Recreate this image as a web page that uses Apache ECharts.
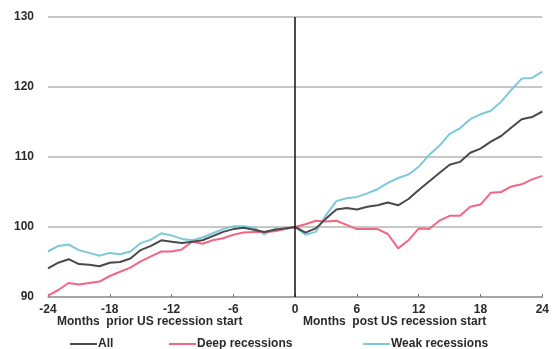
<!DOCTYPE html>
<html>
<head>
<meta charset="utf-8">
<script src="https://cdn.jsdelivr.net/npm/echarts@6/dist/echarts.min.js"></script>
<style>html,body{margin:0;padding:0;background:#fff;}#c{width:552px;height:349px;}</style>
</head>
<body>
<div id="c"></div>
<script>
var months = [];
for (var m = -24; m <= 24; m++) months.push(m);
var allValues = [94.1,94.9,95.4,94.7,94.6,94.4,94.9,95.0,95.5,96.7,97.3,98.1,97.9,97.7,97.9,98.1,98.7,99.3,99.7,99.9,99.6,99.3,99.6,99.8,
  100.0,99.2,99.8,101.2,102.5,102.7,102.5,102.9,103.1,103.5,103.1,104.0,105.3,106.5,107.7,108.9,109.3,110.6,111.2,112.2,113.0,114.2,115.4,115.7,116.5];
var deepValues = [90.2,91.0,92.0,91.8,92.0,92.2,93.0,93.6,94.2,95.1,95.8,96.5,96.5,96.8,97.9,97.6,98.1,98.4,98.9,99.2,99.3,99.3,99.4,99.7,
  100.0,100.4,100.9,100.8,100.9,100.3,99.7,99.7,99.7,99.0,96.95,98.1,99.8,99.7,100.9,101.6,101.6,102.9,103.2,104.9,105.0,105.8,106.1,106.8,107.3];
var weakValues = [96.5,97.3,97.5,96.7,96.3,95.9,96.3,96.1,96.5,97.7,98.2,99.1,98.8,98.3,98.1,98.5,99.1,99.7,100.1,100.1,99.9,98.95,99.7,99.8,
  100.0,98.9,99.3,101.7,103.7,104.1,104.3,104.8,105.4,106.3,107.0,107.5,108.6,110.3,111.6,113.3,114.1,115.4,116.1,116.6,117.9,119.6,121.2,121.3,122.2];
var xTicks = [-24,-18,-12,-6,0,6,12,18,24];
var yTicks = [90,100,110,120,130];
var seriesNames = ['All','Deep recessions','Weak recessions'];
var axisNames = ['Months  prior US recession start','Months  post US recession start'];

function pairs(vals){ return months.map(function(m,i){ return [m, vals[i]]; }); }

var chart = echarts.init(document.getElementById('c'), null, {renderer:'canvas'});
var font = 'Liberation Sans, Arial, sans-serif';
function legendItem(name, left){
  return {data:[name],left:left,top:333,padding:[5,0,5,0],icon:'rect',itemWidth:27,itemHeight:2,
    textStyle:{color:'#2a2a2a',fontSize:12,fontWeight:'bold',fontFamily:font,padding:[0,0,0,-4]}};
}
chart.setOption({
  animation:false,
  textStyle:{fontFamily:font},
  grid:{left:48,right:9,top:17,bottom:52},
  xAxis:{type:'value',min:xTicks[0],max:xTicks[xTicks.length-1],interval:6,
    axisLine:{show:true,onZero:false,lineStyle:{color:'#9a9a9a',width:1.5}},
    axisTick:{show:true,inside:true,length:3,lineStyle:{color:'#777'}},
    axisLabel:{color:'#2a2a2a',fontSize:12,fontWeight:'bold',margin:7,fontFamily:font},
    splitLine:{show:false}},
  yAxis:{type:'value',min:yTicks[0],max:yTicks[yTicks.length-1],interval:10,
    axisLine:{show:false},axisTick:{show:false},
    axisLabel:{color:'#2a2a2a',fontSize:12,fontWeight:'bold',margin:14,fontFamily:font},
    splitLine:{show:true,lineStyle:{color:'#b4b4b4',width:1.5}}},
  legend:[legendItem(seriesNames[0],70),legendItem(seriesNames[1],169),legendItem(seriesNames[2],363)],
  graphic:[
    {type:'text',left:57,top:316,style:{text:axisNames[0],fill:'#2a2a2a',font:'bold 12px '+font}},
    {type:'text',left:303,top:316,style:{text:axisNames[1],fill:'#2a2a2a',font:'bold 12px '+font}}
  ],
  series:[
    {name:seriesNames[0],type:'line',data:pairs(allValues),symbol:'none',
      lineStyle:{color:'#4a4a4a',width:2},itemStyle:{color:'#4a4a4a'},z:3,
      markLine:{silent:true,symbol:['none','none'],label:{show:false},
        lineStyle:{color:'#111',width:1.5,type:'solid'},data:[{xAxis:0}]}},
    {name:seriesNames[1],type:'line',data:pairs(deepValues),symbol:'none',
      lineStyle:{color:'#f06683',width:2},itemStyle:{color:'#f06683'},z:2},
    {name:seriesNames[2],type:'line',data:pairs(weakValues),symbol:'none',
      lineStyle:{color:'#7ec8d8',width:2},itemStyle:{color:'#7ec8d8'},z:1}
  ]
});
</script>
</body>
</html>
